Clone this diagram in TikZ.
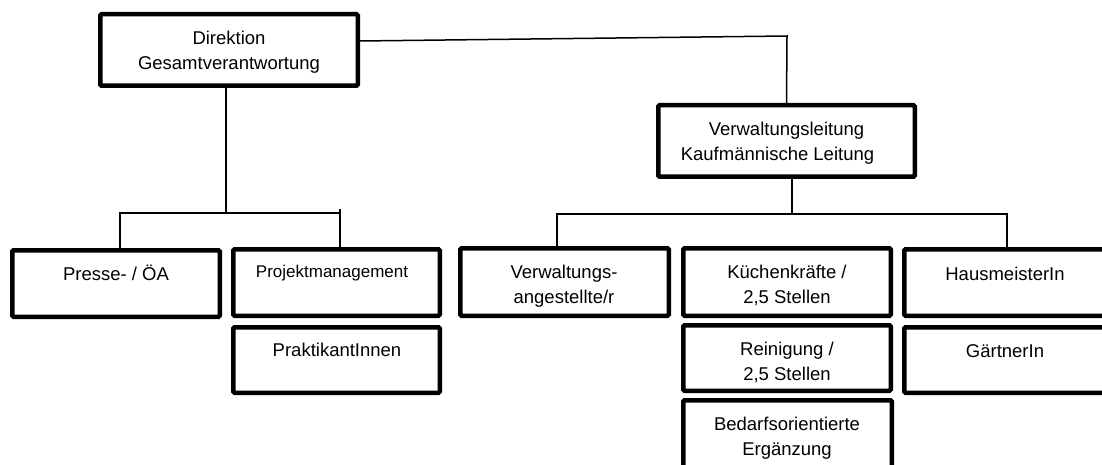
\documentclass[tikz,border=0pt]{standalone}
\usepackage{fontspec}
\setmainfont{Liberation Sans}
\begin{document}
\begin{tikzpicture}[x=1pt,y=-1pt,
  box/.style={draw=black,line width=4.5pt,rounded corners=1.2pt,fill=white,inner sep=0pt},
  conn/.style={draw=black,line width=1.5pt},
  txt/.style={anchor=base,align=center,inner sep=0pt,font=\fontsize{18.5pt}{25pt}\selectfont},
  smalltxt/.style={anchor=base,align=center,inner sep=0pt,font=\fontsize{17pt}{23pt}\selectfont}]
\useasboundingbox (0,0) rectangle (1102,465);
\fill[white] (0,0) rectangle (1102,465);
\clip (0,0) rectangle (1102,465);
% boxes (size = outer size - line width)
\node[box,minimum width=257.5pt,minimum height=71.5pt] (dir) at (229,50) {};
\node[box,minimum width=256.5pt,minimum height=71.5pt] (vl) at (786.5,141) {};
\node[box,minimum width=207.5pt,minimum height=66.5pt] (presse) at (116,283.5) {};
\node[box,minimum width=206.5pt,minimum height=66.5pt] (projekt) at (336.5,282.5) {};
\node[box,minimum width=206.5pt,minimum height=65.5pt] (prakt) at (336.5,360) {};
\node[box,minimum width=208.5pt,minimum height=67.5pt] (verwang) at (564.5,282) {};
\node[box,minimum width=207.5pt,minimum height=67.5pt] (kueche) at (787,282) {};
\node[box,minimum width=207.5pt,minimum height=65.5pt] (rein) at (787,358) {};
\node[box,minimum width=208.5pt,minimum height=75.5pt] (bedarf) at (787.5,438) {};
\node[box,minimum width=205.5pt,minimum height=66.5pt] (haus) at (1007,282.5) {};
\node[box,minimum width=205.5pt,minimum height=65.5pt] (gaert) at (1007,360) {};
% texts (multi-line nodes: base = last line's baseline)
\node[txt] (dirT) at (229,69.5) {Direktion\\Gesamtverantwortung};
\node[txt] (vlT) at (786.5,161) {Verwaltungsleitung\\Kaufmännische Leitung\hspace*{18pt}};
\node[txt] (presseT) at (116,280) {Presse- / ÖA};
\node[smalltxt] (projektT) at (332,277) {Projektmanagement};
\node[txt] (praktT) at (337,356) {PraktikantInnen};
\node[txt] (verwangT) at (564,303) {Verwaltungs-\\angestellte/r};
\node[txt] (kuecheT) at (787,303) {Küchenkräfte /\\2,5 Stellen};
\node[txt] (reinT) at (787,380) {Reinigung /\\2,5 Stellen};
\node[txt] (bedarfT) at (787,455) {Bedarfsorientierte\\Ergänzung};
\node[txt] (hausT) at (1005,280) {HausmeisterIn};
\node[txt] (gaertT) at (1005,357) {GärtnerIn};
% connectors
\coordinate (kv) at (787,36);
\coordinate (lb1) at (120,213);
\coordinate (lb2) at (340,209);
\coordinate (lbm) at (340,213);
\coordinate (rb1) at (557,214);
\coordinate (rb2) at (1007,214);
\draw[conn] ([yshift=9pt]dir.east) -- (kv) -- (vl.north);
\draw[conn] ([xshift=-3pt]dir.south) -- ([xshift=-3pt]dir.south |- lbm);
\draw[conn] (presse.north -| lb1) -- (lb1) -- (lbm);
\draw[conn] (projekt.north -| lb2) -- (lb2);
\draw[conn] ([xshift=5.5pt]vl.south) -- ([xshift=5.5pt]vl.south |- rb1);
\draw[conn] (verwang.north -| rb1) -- (rb1) -- (rb2) -- (haus.north -| rb2);
\end{tikzpicture}
\end{document}
